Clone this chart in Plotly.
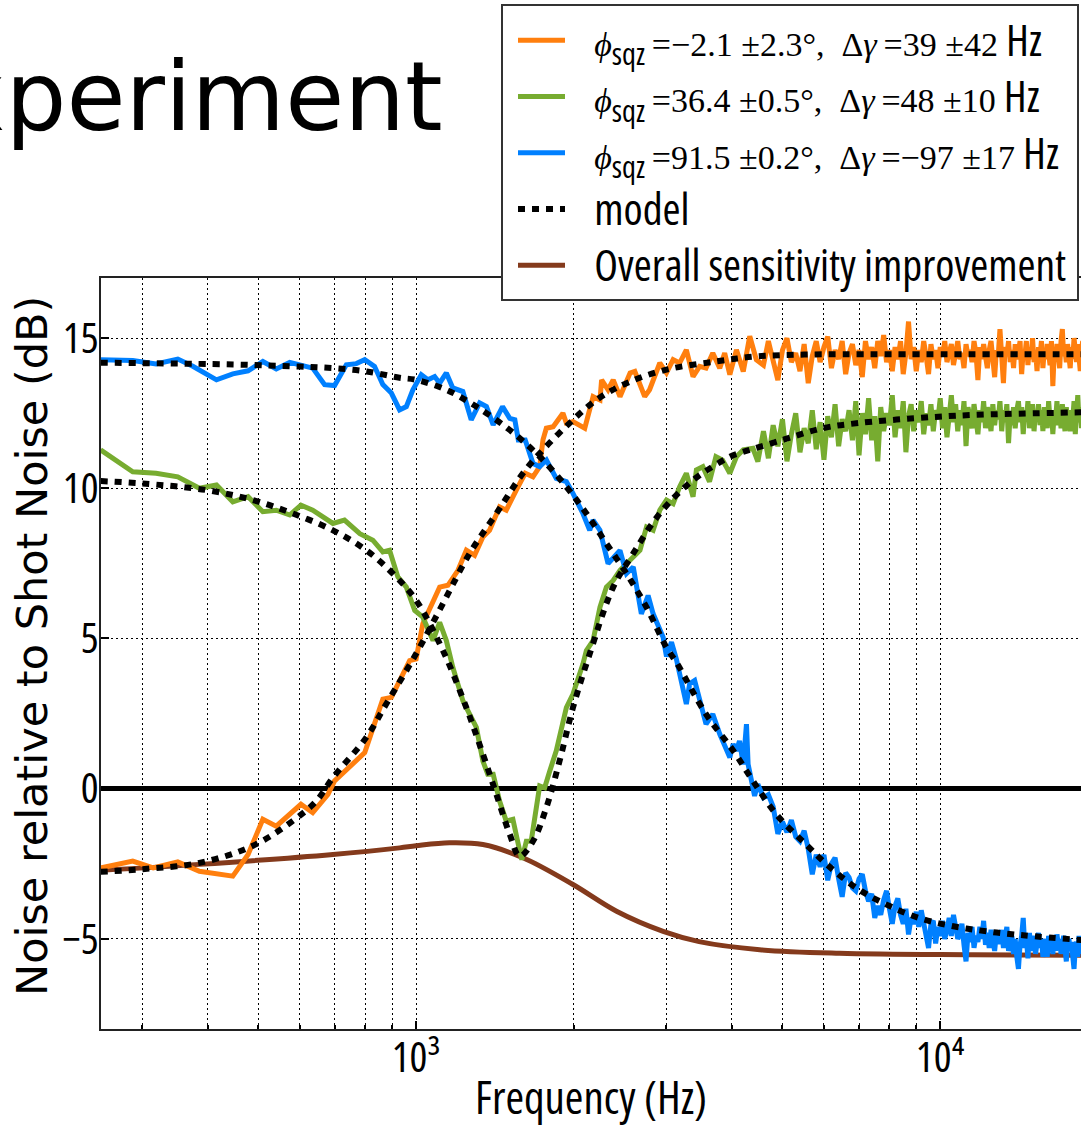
import math
import plotly.graph_objects as go

# ---------------------------------------------------------------------------
# Data (frequency in Hz, noise relative to shot noise in dB)
# ---------------------------------------------------------------------------

# Frequency bins used for the high-frequency part of every measured spectrum
HF_FREQ = [
    4600, 4700, 4800, 4900, 5000, 5100, 5200, 5300, 5400, 5500, 5600, 5700,
    5800, 5900, 6000, 6100, 6200, 6300, 6400, 6500, 6600, 6700, 6800, 6900,
    7000, 7100, 7200, 7300, 7400, 7500, 7600, 7700, 7800, 7900, 8000, 8100,
    8200, 8300, 8400, 8500, 8600, 8700, 8800, 8900, 9000, 9100, 9200, 9300,
    9400, 9500, 9600, 9700, 9800, 9900, 10000, 10100, 10200, 10300, 10400, 10500,
    10600, 10700, 10800, 10900, 11000, 11100, 11200, 11300, 11400, 11500, 11600, 11700,
    11800, 11900, 12000, 12100, 12200, 12300, 12400, 12500, 12600, 12700, 12800, 12900,
    13000, 13100, 13200, 13300, 13400, 13500, 13600, 13700, 13800, 13900, 14000, 14100,
    14200, 14300, 14400, 14500, 14600, 14700, 14800, 14900, 15000, 15100, 15200, 15300,
    15400, 15500, 15600, 15700, 15800, 15900, 16000, 16100, 16200, 16300, 16400, 16500,
    16600, 16700, 16800, 16900, 17000, 17100, 17200, 17300, 17400, 17500, 17600, 17700,
    17800, 17900, 18000, 18100, 18200, 18300, 18400, 18500, 18600, 18700, 18800, 18900,
]

# phi_sqz = -2.1 deg (orange)
ORANGE_LF_FREQ = [
    250, 288, 315, 351, 386, 447, 478, 510, 541, 603, 635, 679, 699, 746, 798,
    864, 897, 972, 1000, 1030, 1077, 1109, 1150, 1202, 1247, 1293, 1341, 1381,
    1443, 1486, 1553, 1615, 1671, 1721, 1746, 1772, 1826, 1878, 1906, 1935, 1992,
    2098, 2176, 2243, 2259, 2324, 2377, 2449, 2560, 2614, 2730, 2789, 2917, 3004,
    3093, 3183, 3278, 3376, 3475, 3574, 3682, 3796, 3879, 3968, 4085, 4209, 4331,
    4458,
]
ORANGE_LF_DB = [
    -2.64, -2.41, -2.64, -2.44, -2.75, -2.91, -2.19, -1.02, -1.25, -0.52, -0.80,
    -0.19, 0.26, 0.70, 1.20, 2.98, 3.04, 4.26, 4.32, 5.49, 6.27, 6.71, 6.77, 7.27,
    7.94, 7.77, 8.38, 8.60, 9.38, 9.27, 9.94, 10.50, 10.38, 10.72, 11.61, 12.00,
    12.05, 12.33, 12.50, 12.17, 12.22, 12.00, 13.05, 12.94, 13.61, 13.28, 13.61,
    13.05, 13.84, 13.89, 13.05, 13.28, 14.17, 13.84, 14.28, 14.17, 14.61, 13.72,
    14.06, 14.00, 14.50, 14.00, 14.50, 13.78, 14.61, 13.89, 15.06, 14.28,
]
ORANGE_HF_DB = [
    14.1, 14.9, 14.3, 13.6, 14.6, 15.0, 14.2, 14.5, 13.9, 14.8, 13.5, 14.4,
    14.9, 14.2, 14.7, 15.05, 14.0, 14.6, 14.3, 14.9, 13.8, 14.5, 14.8, 14.1,
    14.6, 13.7, 14.9, 14.3, 14.7, 14.0, 14.9, 14.4, 15.1, 14.2, 14.6, 13.9,
    14.7, 14.3, 14.9, 13.8, 14.5, 15.55, 14.3, 14.7, 13.9, 14.6, 14.2, 14.9,
    14.4, 13.8, 14.8, 14.3, 14.6, 14.0, 14.7, 14.4, 14.9, 14.2, 14.5, 14.8,
    14.1, 14.6, 14.9, 14.3, 14.5, 14.0, 14.8, 14.4, 14.6, 14.2, 14.9, 14.5,
    13.6, 14.7, 14.3, 14.8, 14.5, 14.0, 14.6, 14.9, 14.3, 13.7, 14.6, 14.4,
    15.3, 14.3, 13.5, 14.7, 14.4, 14.9, 14.2, 14.6, 14.0, 14.8, 14.3, 14.5,
    14.9, 13.8, 14.6, 14.4, 14.9, 14.1, 14.7, 14.3, 15.0, 14.2, 14.6, 13.9,
    14.7, 14.4, 14.9, 14.0, 14.6, 14.3, 14.8, 14.5, 14.1, 14.9, 13.4, 14.5,
    14.3, 14.8, 14.5, 14.0, 14.9, 15.3, 14.4, 14.6, 14.2, 14.8, 14.4, 14.0,
    14.7, 14.3, 15.0, 14.5, 14.2, 14.8, 14.4, 13.9, 14.6, 14.9, 14.3, 14.5,
]

# phi_sqz = 36.4 deg (green)
GREEN_LF_FREQ = [
    250, 288, 319, 351, 386, 416, 447, 478, 510, 541, 574, 603, 635, 694, 730,
    781, 827, 864, 890, 923, 958, 994, 1030, 1077, 1109, 1142, 1175, 1228, 1265,
    1303, 1341, 1370, 1403, 1443, 1486, 1530, 1567, 1591, 1623, 1658, 1721, 1759,
    1799, 1851, 1935, 1992, 2081, 2113, 2176, 2243, 2307, 2377, 2449, 2560, 2674,
    2752, 2833, 2917, 3004, 3093, 3183, 3278, 3376, 3426, 3525, 3629, 3733, 3843,
    3968, 4085, 4209, 4392, 4488,
]
GREEN_LF_DB = [
    11.28, 10.55, 10.50, 10.38, 10.00, 10.11, 9.55, 9.72, 9.22, 9.27, 9.11, 9.44,
    9.27, 8.83, 8.94, 8.49, 8.27, 7.88, 7.94, 7.05, 6.71, 5.93, 5.71, 4.93, 5.54,
    4.93, 4.04, 2.93, 2.48, 2.04, 0.92, 0.48, 0.48, -0.41, -1.08, -1.02, -1.86,
    -2.36, -1.75, -1.75, 0.09, 0.03, 0.59, 1.26, 2.70, 3.15, 4.15, 4.60, 4.93,
    6.04, 6.71, 6.93, 7.27, 7.60, 7.94, 8.71, 8.60, 9.27, 9.61, 9.49, 10.05,
    10.50, 9.72, 10.61, 10.72, 10.22, 11.05, 10.94, 10.50, 11.05, 11.28, 11.33,
    10.89,
]
GREEN_HF_DB = [
    11.9, 11.0, 12.1, 11.4, 12.3, 10.9, 11.8, 12.5, 11.2, 12.0, 11.5, 12.6,
    11.3, 12.2, 10.95, 12.4, 11.7, 12.8, 11.4, 12.3, 11.9, 12.6, 11.6, 12.9,
    11.1, 12.5, 11.8, 13.0, 11.6, 12.4, 10.9, 12.7, 11.9, 12.5, 12.1, 13.1,
    11.7, 12.6, 12.0, 12.9, 11.2, 12.4, 12.8, 11.9, 12.6, 12.2, 12.9, 11.8,
    12.5, 12.1, 12.8, 11.9, 12.6, 12.3, 13.0, 12.0, 12.7, 11.7, 12.4, 13.1,
    12.2, 12.8, 11.9, 12.6, 12.1, 12.9, 11.4, 12.7, 12.3, 12.0, 12.8, 12.4,
    11.8, 12.6, 12.2, 12.9, 12.0, 12.7, 12.4, 11.9, 12.8, 12.1, 12.6, 12.3,
    12.9, 11.9, 12.6, 12.2, 12.8, 11.5, 12.5, 12.1, 12.7, 12.0, 12.6, 12.9,
    12.2, 12.7, 11.8, 12.6, 12.3, 12.9, 12.0, 12.5, 12.8, 11.9, 12.6, 12.3,
    12.8, 12.1, 12.6, 11.9, 12.7, 12.4, 12.0, 12.9, 12.3, 12.6, 11.8, 12.5,
    12.3, 12.9, 12.1, 12.6, 12.0, 12.8, 12.4, 11.9, 12.7, 12.2, 12.5, 11.9,
    12.6, 12.3, 12.9, 11.8, 12.5, 13.1, 12.2, 12.7, 12.0, 12.6, 12.4, 12.8,
]

# phi_sqz = 91.5 deg (blue)
BLUE_LF_FREQ = [
    250, 288, 319, 351, 375, 416, 447, 478, 510, 541, 574, 635, 669, 699, 736,
    769, 798, 833, 864, 897, 930, 958, 986, 1023, 1053, 1085, 1109, 1142, 1175,
    1228, 1274, 1322, 1362, 1403, 1462, 1509, 1543, 1567, 1615, 1671, 1721, 1773,
    1851, 1935, 1992, 2081, 2144, 2176, 2243, 2324, 2449, 2520, 2596, 2690, 2771,
    2833, 2960, 3004, 3071, 3139, 3278, 3326, 3400, 3475, 3574, 3682, 3796, 3968,
    4026, 4085, 4140, 4209, 4269, 4300, 4331, 4392, 4424, 4488,
]
BLUE_LF_DB = [
    14.28, 14.25, 14.14, 14.30, 14.06, 13.61, 13.81, 13.91, 14.22, 13.97, 14.19,
    14.00, 13.45, 13.42, 14.11, 14.15, 14.28, 14.06, 13.45, 13.17, 12.61, 12.72,
    13.28, 13.78, 13.61, 13.72, 13.50, 13.84, 13.34, 13.22, 12.28, 12.84, 12.72,
    12.11, 12.72, 12.33, 12.28, 11.61, 11.61, 10.83, 10.72, 10.94, 10.33, 10.22,
    9.83, 9.16, 8.60, 8.94, 8.60, 7.49, 7.93, 7.16, 7.38, 5.82, 6.43, 5.82, 5.04,
    4.40, 4.88, 4.30, 2.82, 3.49, 3.60, 2.93, 2.15, 2.48, 1.82, 1.04, 1.48, 1.26,
    1.59, 0.81, 2.15, 0.81, 0.59, 0.03, -0.24, 0.15,
]
BLUE_HF_DB = [
    -0.3, -0.2, -0.6, -1.5, -1.1, -1.45, -1.05, -1.6, -1.75, -1.4, -2.0, -2.85,
    -2.2, -2.6, -2.2, -3.05, -2.5, -2.3, -3.0, -3.6, -2.8, -2.95, -3.3, -3.4,
    -3.0, -2.85, -3.4, -3.75, -3.5, -4.3, -3.9, -4.2, -3.7, -3.4, -4.0, -4.5,
    -3.9, -3.65, -4.2, -4.5, -4.0, -4.85, -4.3, -4.5, -4.1, -4.6, -4.05, -4.4,
    -4.9, -5.3, -4.5, -4.4, -5.15, -4.6, -4.9, -4.4, -5.0, -4.7, -4.3, -4.9,
    -4.2, -4.6, -5.0, -4.85, -4.5, -5.2, -5.75, -4.8, -5.1, -4.6, -5.3, -4.9,
    -5.1, -4.6, -5.0, -4.4, -5.2, -4.8, -5.3, -4.7, -5.0, -5.4, -4.8, -5.1,
    -5.1, -4.7, -5.3, -5.0, -4.6, -5.4, -5.1, -4.9, -5.5, -5.0, -5.6, -6.0,
    -5.2, -4.9, -4.3, -5.3, -5.0, -5.65, -4.8, -5.4, -5.1, -4.9, -5.5, -5.1,
    -4.8, -5.3, -5.0, -5.6, -5.2, -5.0, -5.6, -4.9, -5.3, -5.1, -5.5, -5.0,
    -5.4, -4.85, -5.2, -5.0, -5.5, -5.1, -4.9, -5.3, -5.75, -5.2, -5.0, -5.4,
    -5.1, -5.6, -6.0, -5.3, -5.1, -5.6, -4.9, -5.3, -5.0, -5.5, -5.2, -5.4,
]

# Model curves
MODEL_ORANGE_FREQ = [250, 300, 386, 487, 581, 645, 694, 803, 877, 1000, 1125, 1265,
                     1423, 1599, 1746, 1963, 2207, 2520, 3004, 3733, 4458, 5500,
                     8000, 19000]
MODEL_ORANGE_DB = [-2.77, -2.68, -2.47, -1.91, -1.08, -0.41, 0.37, 1.70, 2.82, 4.49,
                   6.16, 7.83, 9.16, 10.50, 11.28, 12.17, 12.94, 13.50, 13.95, 14.22,
                   14.39, 14.45, 14.46, 14.46]

MODEL_GREEN_FREQ = [250, 300, 398, 488, 582, 694, 803, 903, 1000, 1125, 1247, 1341,
                    1423, 1509, 1576, 1671, 1772, 1878, 1992, 2144, 2377, 2596, 2917,
                    3376, 3971, 4140, 5005, 5966, 6975, 8935, 11540, 19000]
MODEL_GREEN_DB = [10.24, 10.16, 9.94, 9.61, 9.16, 8.60, 7.94, 7.16, 6.27, 4.60, 2.70,
                  1.15, -0.19, -1.52, -2.25, -1.75, -0.63, 0.92, 2.70, 4.49, 6.71,
                  7.83, 9.16, 10.27, 11.05, 11.17, 11.61, 12.00, 12.17, 12.33, 12.44,
                  12.53]

MODEL_BLUE_FREQ = [250, 450, 600, 694, 805, 930, 1000, 1142, 1303, 1509, 1721, 1935,
                   2113, 2307, 2520, 2752, 3004, 3139, 3574, 4029, 4392, 4865, 5546,
                   6074, 6925, 7903, 9134, 10590, 12270, 14390, 19000]
MODEL_BLUE_DB = [14.18, 14.12, 14.05, 14.00, 13.89, 13.68, 13.61, 13.28, 12.72, 11.94,
                 11.05, 10.05, 9.16, 8.16, 7.16, 6.04, 4.70, 4.20, 2.48, 1.26, 0.26,
                 -0.85, -1.86, -2.52, -3.31, -3.86, -4.31, -4.58, -4.75, -4.88, -5.05]

# Overall sensitivity improvement
OVERALL_FREQ = [250, 386, 694, 930, 1000, 1158, 1341, 1599, 1992, 2412, 2960, 3467,
                4524, 6420, 11540, 19000]
OVERALL_DB = [-2.72, -2.52, -2.19, -1.97, -1.90, -1.80, -1.86, -2.30, -3.19, -4.08,
              -4.75, -5.09, -5.36, -5.48, -5.53, -5.55]

# Axis ticks
X_MAJOR = [1000, 10000]
X_MAJOR_TEXT = ["10\u00b3", "10\u2074"]
X_MINOR = [300, 400, 500, 600, 700, 800, 900,
           2000, 3000, 4000, 5000, 6000, 7000, 8000, 9000]
Y_TICKS = [-5, 0, 5, 10, 15]
Y_TICK_TEXT = ["\u22125", "0", "5", "10", "15"]

# ---------------------------------------------------------------------------
# Styling
# ---------------------------------------------------------------------------
ORANGE = "#ff7f0e"
GREEN = "#77ac30"
BLUE = "#0080ff"
BROWN = "#843a1c"

FONT = "Open Sans, DejaVu Sans, sans-serif"
SANS = "DejaVu Sans, sans-serif"
MATH = "font-family:'Liberation Serif',serif;font-size:34px;font-stretch:100%"
NB = "\u00a0"
THIN = "\u2009"


def narrow(text, size=None):
    """Condensed face of the chart font."""
    style = "font-stretch:75%"
    if size:
        style += f";font-size:{size}px"
    return f'<span style="{style}">{text}</span>'


def sqz_label(phi, dgamma):
    body = (f'{NB * 3}<span style="{MATH}"><i>\u03d5</i></span><sub>sqz</sub>'
            f'<span style="{MATH}">{THIN}={phi}\u00b0,  \u0394<i>\u03b3</i>{THIN}={dgamma}</span> Hz')
    return narrow(body, 43.5)


LABEL_ORANGE = sqz_label("\u22122.1 \u00b12.3", "39 \u00b142")
LABEL_GREEN = sqz_label("36.4 \u00b10.5", "48 \u00b110")
LABEL_BLUE = sqz_label("91.5 \u00b10.2", "\u221297 \u00b117")
LABEL_MODEL = narrow(NB * 3 + "model", 43.5)
LABEL_OVERALL = narrow(NB * 3 + "Overall sensitivity improvement", 43.5)

DOTS = "7px,7px"

fig = go.Figure()

fig.add_trace(go.Scatter(
    x=OVERALL_FREQ, y=OVERALL_DB, mode="lines", line_shape="spline",
    line=dict(color=BROWN, width=5), name=LABEL_OVERALL, legendrank=5))

fig.add_trace(go.Scatter(
    x=ORANGE_LF_FREQ + HF_FREQ, y=ORANGE_LF_DB + ORANGE_HF_DB, mode="lines",
    line=dict(color=ORANGE, width=5), name=LABEL_ORANGE, legendrank=1))
fig.add_trace(go.Scatter(
    x=GREEN_LF_FREQ + HF_FREQ, y=GREEN_LF_DB + GREEN_HF_DB, mode="lines",
    line=dict(color=GREEN, width=5), name=LABEL_GREEN, legendrank=2))
fig.add_trace(go.Scatter(
    x=BLUE_LF_FREQ + HF_FREQ, y=BLUE_LF_DB + BLUE_HF_DB, mode="lines",
    line=dict(color=BLUE, width=5), name=LABEL_BLUE, legendrank=3))

for i, (fx, fy) in enumerate([(MODEL_ORANGE_FREQ, MODEL_ORANGE_DB),
                              (MODEL_GREEN_FREQ, MODEL_GREEN_DB),
                              (MODEL_BLUE_FREQ, MODEL_BLUE_DB)]):
    fig.add_trace(go.Scatter(
        x=fx, y=fy, mode="lines", line_shape="spline",
        line=dict(color="black", width=6, dash=DOTS),
        name=LABEL_MODEL, legendgroup="model", showlegend=(i == 0), legendrank=4))

grid = dict(showgrid=True, gridcolor="black", gridwidth=1.2, griddash="2px,3px")
tickfont = dict(family=FONT, size=42, color="black")

PLOT_L, PLOT_W, PLOT_B, PLOT_H = 101, 980, 1029, 751


def px_x(p):
    return (p - PLOT_L) / PLOT_W


def px_y(p):
    return (PLOT_B - p) / PLOT_H


fig.update_layout(
    width=1081, height=1127,
    margin=dict(l=101, r=0, t=278, b=98),
    paper_bgcolor="white", plot_bgcolor="white",
    showlegend=True,
    xaxis=dict(
        type="log", range=[math.log10(250.5), math.log10(18560)], automargin=False,
        tickmode="array", tickvals=X_MAJOR, ticktext=[narrow(t) for t in X_MAJOR_TEXT],
        ticks="inside", ticklen=8, tickwidth=1.5, tickcolor="black",
        tickfont=tickfont, ticklabelstandoff=-9,
        showline=True, linecolor="#222", linewidth=2, mirror=True,
        zeroline=False,
        minor=dict(tickvals=X_MINOR, ticks="inside", ticklen=4, tickcolor="black",
                   **grid),
        title=dict(text=narrow("Frequency (Hz)", 45), font=tickfont, standoff=22),
        **grid,
    ),
    yaxis=dict(
        range=[-8, 17], automargin=False, tickmode="array", tickvals=Y_TICKS,
        ticktext=[narrow(t) for t in Y_TICK_TEXT],
        ticks="inside", ticklen=8, tickwidth=1.5, tickcolor="black",
        tickfont=tickfont, ticklabelstandoff=-8,
        showline=True, linecolor="#222", linewidth=2, mirror=False,
        zeroline=True, zerolinecolor="black", zerolinewidth=5,
        **grid,
    ),
    legend=dict(
        x=px_x(513), xanchor="left", y=px_y(7), yanchor="top",
        bgcolor="rgba(0,0,0,0)", borderwidth=0,
        font=dict(family=FONT, size=41, color="black"),
        itemwidth=47, tracegroupgap=0,
    ),
    shapes=[
        # legend frame
        dict(type="rect", xref="paper", yref="paper", layer="above",
             x0=px_x(502), x1=px_x(1078), y0=px_y(300), y1=px_y(5),
             fillcolor="white", line=dict(color="#333", width=2)),
    ],
    annotations=[
        dict(text="Experiment", xref="paper", yref="paper",
             x=px_x(445), y=px_y(39), xanchor="right", yanchor="top",
             showarrow=False, font=dict(family=SANS, size=96, color="black")),
        dict(text="Noise relative to Shot Noise (dB)", xref="paper", yref="paper",
             x=px_x(32), y=0.51, xanchor="center", yanchor="middle",
             textangle=-90, showarrow=False,
             font=dict(family=SANS, size=43, color="black")),
    ],
)

fig.write_html("out.html")
